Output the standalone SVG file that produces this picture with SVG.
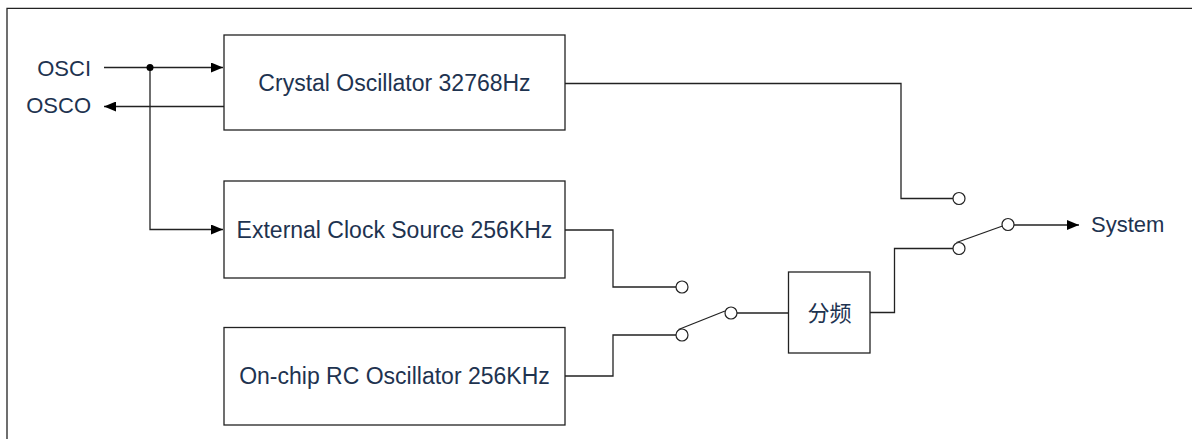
<svg xmlns="http://www.w3.org/2000/svg" width="1192" height="439" viewBox="0 0 1192 439">
<defs>
<style>
.box{fill:#fff;stroke:#222;stroke-width:1.3}
.ln{fill:none;stroke:#222;stroke-width:1.3}
.pin{fill:#fff;stroke:#222;stroke-width:1.2}
.t{font-family:"Liberation Sans",Arial,sans-serif;font-size:23px;fill:#1e3350}
.s{font-family:"Liberation Sans",Arial,sans-serif;font-size:22px;fill:#1e3350}
.cjk{font-family:"Liberation Sans","Noto Sans CJK SC",sans-serif;font-size:22px;fill:#1e3350}
</style>
<marker id="arr" viewBox="0 0 12 10" refX="12" refY="5" markerWidth="12" markerHeight="10" markerUnits="userSpaceOnUse" orient="auto">
<path d="M0,0 L12,5 L0,10 Z" fill="#000"/>
</marker>
</defs>
<rect width="1192" height="439" fill="#fff"/>
<path class="ln" d="M7,439 V8.3 H1192"/>

<g id="connectors">
<path class="ln" d="M104,67.5 H223" marker-end="url(#arr)"/>
<path class="ln" d="M150,67.5 V229.5 H223" marker-end="url(#arr)"/>
<path class="ln" d="M224,106.5 H104" marker-end="url(#arr)"/>
<circle cx="150" cy="67.5" r="3.5" fill="#000"/>
<path class="ln" d="M565,83.5 H901 V198.5 H953"/>
<path class="ln" d="M565,230 H613 V287 H676"/>
<path class="ln" d="M565,376 H613 V335 H676"/>
<path class="ln" d="M678.5,329.5 L725,311"/>
<path class="ln" d="M737,313 H788"/>
<path class="ln" d="M870,312.5 H894.5 V248.5 H953"/>
<path class="ln" d="M956.5,242.5 L1002.5,226"/>
<path class="ln" d="M1014,225 H1079" marker-end="url(#arr)"/>
<circle class="pin" cx="959" cy="198.5" r="6"/>
<circle class="pin" cx="682" cy="287" r="6"/>
<circle class="pin" cx="682" cy="335" r="6"/>
<circle class="pin" cx="731" cy="313" r="6"/>
<circle class="pin" cx="959" cy="248.5" r="6"/>
<circle class="pin" cx="1008" cy="224.5" r="6"/>
</g>

<g id="osci"><text class="s" x="91" y="76" text-anchor="end">OSCI</text></g>
<g id="osco"><text class="s" x="91" y="113" text-anchor="end">OSCO</text></g>

<g id="crystal">
<rect class="box" x="224" y="35" width="341" height="95"/>
<text class="t" x="394.5" y="91" text-anchor="middle">Crystal Oscillator 32768Hz</text>
</g>
<g id="external">
<rect class="box" x="224" y="181" width="341" height="97"/>
<text class="t" x="394.5" y="237.5" text-anchor="middle">External Clock Source 256KHz</text>
</g>
<g id="rc">
<rect class="box" x="224" y="327.5" width="341" height="97.5"/>
<text class="t" x="394.5" y="384" text-anchor="middle">On-chip RC Oscillator 256KHz</text>
</g>
<g id="divider">
<rect class="box" x="788.5" y="272" width="81.5" height="81"/>
<text class="cjk" x="829.5" y="321" text-anchor="middle">分频</text>
</g>
<g id="system"><text class="s" x="1091" y="232">System</text></g>
</svg>
